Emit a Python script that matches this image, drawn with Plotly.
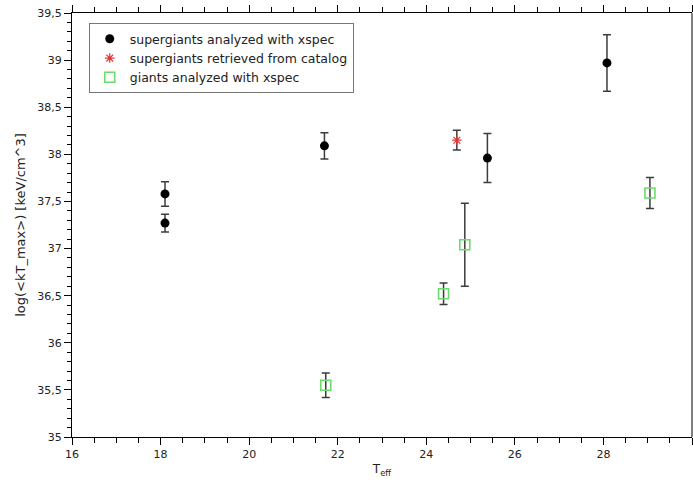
import plotly.graph_objects as go

# Supergiants analyzed with xspec
sg_teff = [18.1, 18.1, 21.7, 25.38, 28.08]
sg_logkt = [37.58, 37.27, 38.09, 37.96, 38.97]
sg_err = [0.13, 0.095, 0.14, 0.26, 0.30]

# Supergiants retrieved from catalog
cat_teff = [24.69]
cat_logkt = [38.15]
cat_err = [0.105]

# Giants analyzed with xspec
gi_teff = [21.73, 24.39, 24.87, 29.05]
gi_logkt = [35.55, 36.52, 37.04, 37.59]
gi_err = [0.13, 0.115, 0.44, 0.165]

FONT = "DejaVu Sans"
TEXT = "#222"
ERR_COLOR = "#3c3c3c"


def err(vals):
    return dict(type="data", array=vals, visible=True, color=ERR_COLOR,
                thickness=1.5, width=4)


fig = go.Figure()
fig.add_trace(go.Scatter(
    x=sg_teff, y=sg_logkt, mode="markers", name="supergiants analyzed with xspec",
    marker=dict(symbol="circle", size=9, color="black"),
    error_y=err(sg_err),
))
fig.add_trace(go.Scatter(
    x=cat_teff, y=cat_logkt, mode="markers", name="supergiants retrieved from catalog",
    marker=dict(symbol="asterisk-open", size=8, color="#e03535",
                line=dict(color="#e03535", width=1.2)),
    error_y=err(cat_err),
))
fig.add_trace(go.Scatter(
    x=gi_teff, y=gi_logkt, mode="markers", name="giants analyzed with xspec",
    marker=dict(symbol="square-open", size=10, color="#6bdc6b",
                line=dict(color="#6bdc6b", width=1.6)),
    error_y=err(gi_err),
))

fig.update_layout(
    width=693, height=485,
    margin=dict(l=72, r=1, t=13, b=48),
    paper_bgcolor="white", plot_bgcolor="white",
    separators=", ",
    font=dict(family=FONT, size=11, color=TEXT),
    showlegend=True,
    legend=dict(
        x=0.027, y=0.976, xanchor="left", yanchor="top",
        bgcolor="white", bordercolor="#777", borderwidth=1,
        font=dict(family=FONT, size=12.5, color=TEXT),
        tracegroupgap=0, itemwidth=30,
    ),
    # right-hand frame edge (line only, no ticks)
    shapes=[dict(type="line", xref="paper", yref="paper", x0=1, x1=1, y0=0, y1=1,
                 line=dict(color="black", width=1))],
)

fig.update_xaxes(
    range=[16, 30], dtick=2, tick0=16,
    showgrid=False, zeroline=False,
    showline=True, linecolor="black", linewidth=1, mirror="ticks",
    ticks="outside", ticklen=7, tickcolor="black", tickwidth=1,
    minor=dict(dtick=0.5, ticks="outside", ticklen=5, tickcolor="black", showgrid=False),
    tickfont=dict(family=FONT, size=11, color=TEXT),
    title=dict(text="T<sub>eff</sub>", font=dict(family=FONT, size=12, color=TEXT), standoff=4),
)
fig.update_yaxes(
    range=[35, 39.5], dtick=0.5, tick0=35,
    showgrid=False, zeroline=False,
    showline=True, linecolor="black", linewidth=1, mirror=False,
    ticks="outside", ticklen=7, tickcolor="black", tickwidth=1,
    minor=dict(dtick=0.1, ticks="outside", ticklen=4, tickcolor="black", showgrid=False),
    tickfont=dict(family=FONT, size=11, color=TEXT),
    title=dict(text="log(&lt;kT_max&gt;) [keV/cm^3]",
               font=dict(family=FONT, size=13, color=TEXT), standoff=8),
)

fig.write_html("out.html")
